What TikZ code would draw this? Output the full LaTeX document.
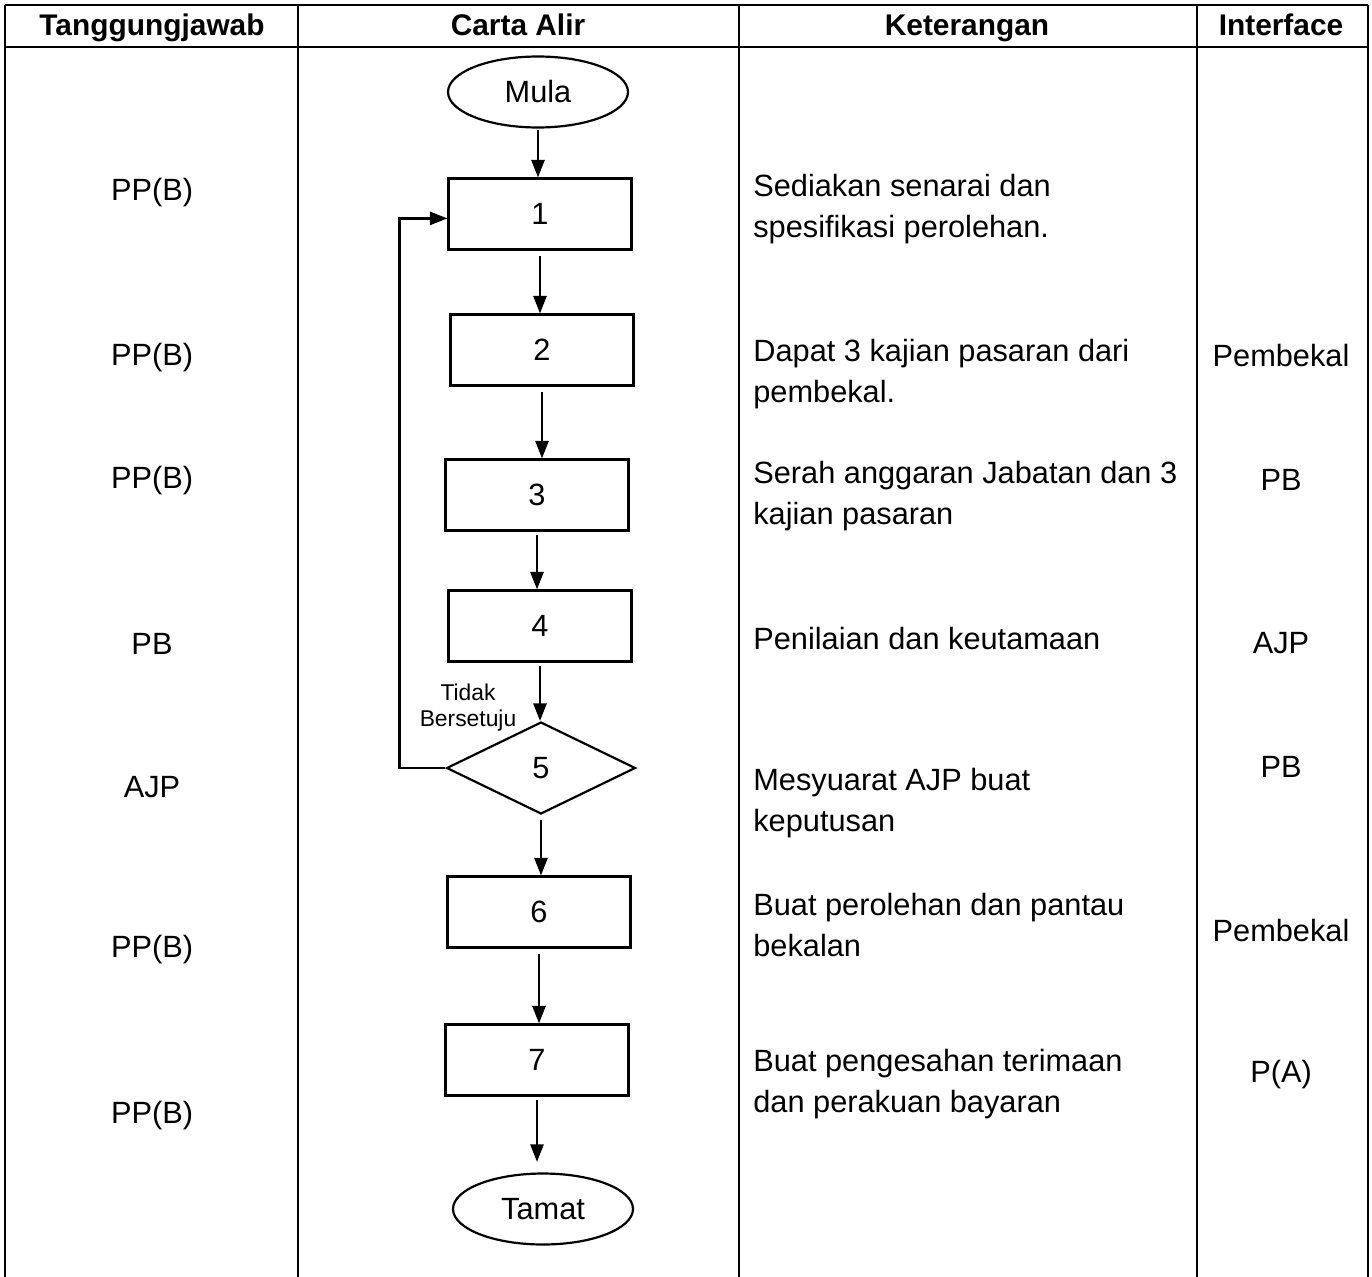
\documentclass[tikz,border=0pt]{standalone}
\usepackage{fontspec}
\setmainfont{Liberation Sans}
\usetikzlibrary{arrows.meta,shapes.geometric}
\tikzset{
  tableline/.style={line width=1.3pt, draw=black},
  headtxt/.style={font=\fontsize{17}{20}\selectfont\bfseries, anchor=base, inner sep=0pt},
  celltxt/.style={font=\fontsize{17.5}{23.2}\selectfont, yshift=-1.6pt},
  desc/.style={celltxt, anchor=west, align=left, inner sep=0pt},
  procbox/.style={rectangle, draw=black, line width=1.25pt, minimum width=3.66cm,
    minimum height=1.42cm, inner sep=0pt, font=\fontsize{17.5}{21}\selectfont},
  termnode/.style={ellipse, draw=black, line width=1.25pt, minimum width=3.6cm,
    minimum height=1.42cm, inner sep=0pt, font=\fontsize{17.5}{21}\selectfont},
  decnode/.style={diamond, draw=black, line width=1.25pt, aspect=2, minimum width=3.78cm,
    minimum height=1.84cm, inner sep=0pt, font=\fontsize{17.5}{21}\selectfont},
  smalltxt/.style={font=\fontsize{13}{14.7}\selectfont, align=center, inner sep=0pt},
  flow/.style={-{Triangle[length=10pt,width=7.5pt]}, line width=1.3pt, draw=black},
}
\begin{document}
\begin{tikzpicture}[x=0.02cm, y=-0.02cm]
  \useasboundingbox (0,0) rectangle (1372,1277);
  % table rules
  \draw[tableline] (5,5) -- (1368,5);
  \draw[tableline] (5,47) -- (1368,47);
  \foreach \x in {5,298,739,1197,1368} {
    \draw[tableline] (\x,5) -- (\x,1277);
  }
  % headers
  \node[headtxt] (h1) at (152,36) {Tanggungjawab};
  \node[headtxt] (h2) at (518,36) {Carta Alir};
  \node[headtxt] (h3) at (967,36) {Keterangan};
  \node[headtxt] (h4) at (1281,36) {Interface};
  % flow chart
  \node[termnode] (start) at (538,92) {Mula};
  \node[procbox] (p1) at (540,214) {1};
  \node[procbox] (p2) at (542,350) {2};
  \node[procbox] (p3) at (537,495) {3};
  \node[procbox] (p4) at (540,626) {4};
  \node[decnode] (dec5) at (541,768) {5};
  \node[procbox] (p6) at (539,912) {6};
  \node[procbox] (p7) at (537,1060) {7};
  \node[termnode] (stop) at (543,1209) {Tamat};
  \draw[flow, shorten <=1pt] (start.south) -- (start.south |- p1.north);
  \draw[flow, shorten <=3pt] (p1.south) -- (p1.south |- p2.north);
  \draw[flow, shorten <=3pt] (p2.south) -- (p2.south |- p3.north);
  \draw[flow, shorten <=2pt] (p3.south) -- (p3.south |- p4.north);
  \draw[flow, shorten <=2pt] (p4.south) -- (p4.south |- dec5.north);
  \draw[flow, shorten <=3pt] (dec5.south) -- (dec5.south |- p6.north);
  \draw[flow, shorten <=3pt] (p6.south) -- (p6.south |- p7.north);
  \draw[flow, shorten <=2pt, shorten >=6pt] (p7.south) -- (p7.south |- stop.north);
  \draw[flow] (dec5.west) -- ++(-46,0) |- ([yshift=-2.5pt]p1.west);
  \node[smalltxt] (tidak) at (468,708) {Tidak\\Bersetuju};
  % Tanggungjawab column
  \node[celltxt] (t1) at (152,190) {PP(B)};
  \node[celltxt] (t2) at (152,355) {PP(B)};
  \node[celltxt] (t3) at (152,478) {PP(B)};
  \node[celltxt] (t4) at (152,641) {PB};
  \node[celltxt] (t5) at (152,784) {AJP};
  \node[celltxt] (t6) at (152,947) {PP(B)};
  \node[celltxt] (t7) at (152,1113) {PP(B)};
  % Keterangan column
  \node[desc] (k1) at (753,206) {Sediakan senarai dan\\spesifikasi perolehan.};
  \node[desc] (k2) at (753,371) {Dapat 3 kajian pasaran dari\\pembekal.};
  \node[desc] (k3) at (753,493) {Serah anggaran Jabatan dan 3\\kajian pasaran};
  \node[desc] (k4) at (753,636) {Penilaian dan keutamaan};
  \node[desc] (k5) at (753,800) {Mesyuarat AJP buat\\keputusan};
  \node[desc] (k6) at (753,922) {Buat perolehan dan pantau\\bekalan};
  \node[desc] (k7) at (753,1081) {Buat pengesahan terimaan\\dan perakuan bayaran};
  % Interface column
  \node[celltxt] (i2) at (1281,353) {Pembekal};
  \node[celltxt] (i3) at (1281,477) {PB};
  \node[celltxt] (i4) at (1281,640) {AJP};
  \node[celltxt] (i5) at (1281,764) {PB};
  \node[celltxt] (i6) at (1281,928) {Pembekal};
  \node[celltxt] (i7) at (1281,1072) {P(A)};
\end{tikzpicture}
\end{document}
